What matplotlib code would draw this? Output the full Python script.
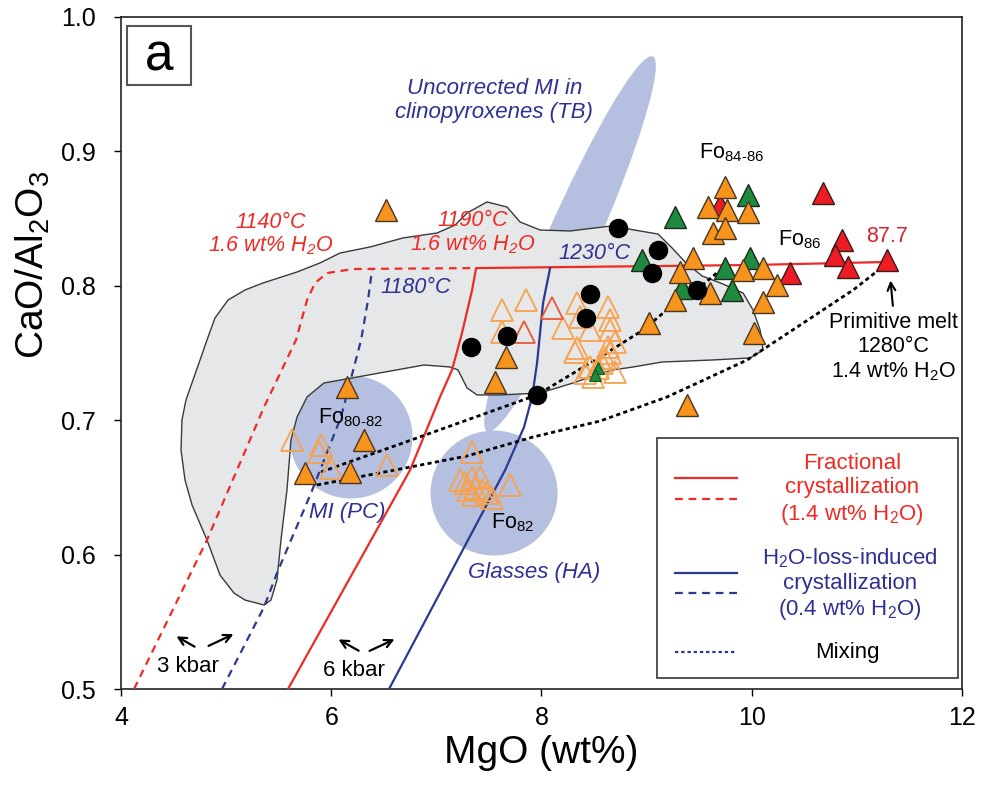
import numpy as np
import matplotlib
matplotlib.use('Agg')
import matplotlib.pyplot as plt
from matplotlib.patches import Polygon, Ellipse, Rectangle
from matplotlib.transforms import ScaledTranslation
from matplotlib import font_manager

plt.rcParams['font.family'] = ['Liberation Sans', 'DejaVu Sans']
plt.rcParams['mathtext.default'] = 'regular'
_names = {f.name for f in font_manager.fontManager.ttflist}
NARROW = 'Liberation Sans Narrow' if 'Liberation Sans Narrow' in _names else 'Liberation Sans'
LABEL_FS = 34 if NARROW == 'Liberation Sans Narrow' else 28

# ---------------- data ----------------
xticks = [4, 6, 8, 10, 12]
yticks = [0.5, 0.6, 0.7, 0.8, 0.9, 1.0]

# grey field of whole-rock / literature data
field_x = [5.361, 5.180, 5.075, 4.942, 4.818, 4.676, 4.609, 4.571, 4.580, 4.618, 4.695, 4.752,
           4.818, 4.894, 5.018, 5.180, 5.351, 5.675, 5.893, 6.084, 6.369, 6.683, 7.007, 7.178,
           7.292, 7.482, 7.673, 7.796, 7.987, 8.272, 8.662, 9.109, 9.243, 9.366, 9.528, 9.728,
           9.918, 10.013, 10.080, 10.108, 9.985, 9.623, 9.148, 8.871, 8.681, 8.491, 8.301, 7.987,
           7.606, 7.387, 7.292, 7.206, 7.130, 6.883, 6.245, 5.931, 5.770, 5.675, 5.617, 5.579,
           5.522, 5.484, 5.427]
field_y = [0.5625, 0.5662, 0.5714, 0.5848, 0.6109, 0.6369, 0.6555, 0.6778, 0.7001, 0.7150, 0.7321, 0.7448,
           0.7597, 0.7760, 0.7894, 0.7969, 0.8021, 0.8103, 0.8170, 0.8244, 0.8289, 0.8356, 0.8393, 0.8452,
           0.8542, 0.8624, 0.8586, 0.8475, 0.8415, 0.8408, 0.8445, 0.8385, 0.8281, 0.8177, 0.8073, 0.8013,
           0.7946, 0.7820, 0.7671, 0.7522, 0.7463, 0.7448, 0.7433, 0.7396, 0.7374, 0.7329, 0.7277, 0.7202,
           0.7188, 0.7188, 0.7240, 0.7374, 0.7396, 0.7411, 0.7321, 0.7277, 0.7173, 0.7024, 0.6853, 0.6481,
           0.6109, 0.5811, 0.5662]

# shaded fields (centres, data units)
tb_center = (8.272, 0.8311)
pc_center = (6.188, 0.6875)
ha_center = (7.549, 0.6458)

# model curves
fc6_x = [5.589, 6.750, 7.035, 7.149, 7.244, 7.340, 7.378, 10.013, 11.269]
fc6_y = [0.500, 0.6629, 0.7173, 0.7374, 0.7649, 0.7969, 0.8132, 0.8155, 0.8177]
fc3_x = [4.124, 4.818, 5.361, 5.665, 5.770, 5.846, 5.960, 6.207, 7.378]
fc3_y = [0.500, 0.6109, 0.7098, 0.7597, 0.7894, 0.8021, 0.8095, 0.8125, 0.8132]
hl6_x = [6.550, 7.654, 7.834, 7.911, 7.958, 8.015, 8.082]
hl6_y = [0.500, 0.6629, 0.6949, 0.7173, 0.7426, 0.7872, 0.8132]
hl3_x = [4.961, 5.361, 5.484, 5.808, 6.093, 6.284, 6.350, 6.388]
hl3_y = [0.500, 0.5610, 0.5863, 0.6458, 0.7024, 0.7597, 0.7894, 0.8118]
mixA_x = [5.903, 6.655, 7.958, 8.558, 8.967, 9.224, 9.509, 9.680]
mixA_y = [0.6615, 0.6823, 0.7188, 0.7470, 0.7671, 0.7842, 0.7991, 0.8103]
mixB_x = [5.865, 6.655, 7.292, 7.920, 8.558, 9.195, 9.956, 10.461, 10.965, 11.269]
mixB_y = [0.6518, 0.6637, 0.6734, 0.6875, 0.6994, 0.7173, 0.7448, 0.7708, 0.7969, 0.8155]

# samples
open_x = [7.853, 7.625, 7.625, 8.206, 8.339, 8.634, 8.367, 8.462, 8.653, 8.653, 8.700, 8.339,
          8.634, 8.653, 8.605, 8.577, 8.539, 8.462, 8.415, 8.700, 8.491, 8.320,
          5.627, 5.903, 5.884, 5.998, 6.531,
          7.340, 7.226, 7.273, 7.340, 7.416, 7.302, 7.368, 7.435, 7.482, 7.530, 7.349, 7.701]
open_y = [0.7894, 0.7820, 0.7656, 0.7686, 0.7872, 0.7842, 0.7768, 0.7671, 0.7746, 0.7671, 0.7582, 0.7537,
          0.7545, 0.7500, 0.7463, 0.7426, 0.7388, 0.7396, 0.7351, 0.7359, 0.7321, 0.7507,
          0.6853, 0.6815, 0.6763, 0.6644, 0.6667,
          0.6763, 0.6555, 0.6533, 0.6570, 0.6577, 0.6481, 0.6496, 0.6481, 0.6458, 0.6421, 0.6443, 0.6518]
openred_x = [8.101, 7.834]
openred_y = [0.7835, 0.7656]
tinygreen_x = [8.539, 8.510]
tinygreen_y = [0.7388, 0.7336]

red_x = [10.679, 9.699, 10.860, 10.794, 10.917, 10.365, 11.288]
red_y = [0.8690, 0.8601, 0.8341, 0.8229, 0.8140, 0.8095, 0.8192]
green_x = [9.966, 9.271, 8.957, 9.747, 9.985, 9.338, 9.814]
green_y = [0.8676, 0.8512, 0.8192, 0.8132, 0.8207, 0.7984, 0.7969]
orange_x = [6.521, 7.663, 7.558, 9.024, 6.150, 6.312, 5.751, 6.179,
            9.747, 9.585, 9.766, 9.966, 9.633, 9.747, 9.442, 9.319, 9.918, 10.108,
            9.604, 9.271, 10.242, 10.108, 10.023, 9.385]
orange_y = [0.8564, 0.7470, 0.7284, 0.7723, 0.7247, 0.6853, 0.6607, 0.6615,
            0.8735, 0.8586, 0.8564, 0.8549, 0.8393, 0.8430, 0.8207, 0.8103, 0.8118, 0.8132,
            0.7946, 0.7894, 0.8006, 0.7879, 0.7649, 0.7113]
black_x = [7.330, 7.673, 7.958, 8.424, 8.462, 8.729, 9.109, 9.052, 9.480]
black_y = [0.7545, 0.7626, 0.7188, 0.7760, 0.7939, 0.8430, 0.8266, 0.8095, 0.7969]

# ---------------- style ----------------
RED = '#EE2B24'
BLUE = '#2B3990'
BLUE_TXT = '#2E3192'
SHADE = '#B5BFDF'
FIELD = '#E6E7E8'
ORANGE = '#F7941D'
GREEN = '#1F8A3F'
TRI_RED = '#ED1C24'
OPEN = '#F6A24E'

fig = plt.figure(figsize=(9.82, 7.87), dpi=100)
ax = fig.add_axes([0.1232, 0.1245, 0.8564, 0.8539])
ax.set_xlim(4, 12)
ax.set_ylim(0.5, 1.0)

def shade(center, w_in, h_in, ang):
    tr = fig.dpi_scale_trans + ScaledTranslation(center[0], center[1], ax.transData)
    e = Ellipse((0, 0), w_in, h_in, angle=ang, transform=tr, facecolor=SHADE,
                edgecolor='none', zorder=1)
    ax.add_patch(e)

shade(tb_center, 4.10, 0.50, 66.2)
shade(pc_center, 1.23, 1.23, 0)
shade(ha_center, 1.27, 1.25, 0)

ax.add_patch(Polygon(np.column_stack([field_x, field_y]), closed=True, facecolor=FIELD,
                     edgecolor='#3a3a3a', lw=1.0, zorder=2))

ax.plot(fc6_x, fc6_y, color=RED, lw=1.6, zorder=3)
ax.plot(fc3_x, fc3_y, color=RED, lw=1.6, ls=(0, (3.5, 2.6)), zorder=3)
ax.plot(hl6_x, hl6_y, color=BLUE, lw=1.6, zorder=3)
ax.plot(hl3_x, hl3_y, color=BLUE, lw=1.6, ls=(0, (3.5, 2.6)), zorder=3)
ax.plot(mixA_x, mixA_y, color='black', lw=2.0, ls=(0, (1.5, 1.2)), zorder=3)
ax.plot(mixB_x, mixB_y, color='black', lw=2.0, ls=(0, (1.5, 1.2)), zorder=3)

tri = 16
ax.plot(open_x, open_y, '^', ms=tri, mfc='none', mec=OPEN, mew=1.3, ls='none', zorder=4)
ax.plot(openred_x, openred_y, '^', ms=tri, mfc='none', mec='#E8583A', mew=1.3, ls='none', zorder=4)
ax.plot(tinygreen_x, tinygreen_y, '^', ms=8, mfc=GREEN, mec='#0f5a25', mew=0.8, ls='none', zorder=4)
ax.plot(red_x, red_y, '^', ms=tri, mfc=TRI_RED, mec='#3a1a1a', mew=1.0, ls='none', zorder=5)
ax.plot(green_x, green_y, '^', ms=tri, mfc=GREEN, mec='#1a2a1a', mew=1.0, ls='none', zorder=6)
ax.plot(orange_x, orange_y, '^', ms=tri, mfc=ORANGE, mec='#4a3520', mew=1.0, ls='none', zorder=7)
ax.plot(black_x, black_y, 'o', ms=13, mfc='black', mec='black', ls='none', zorder=8)

# ---------------- annotations ----------------
fs = 16
ax.text(8.272 - 0.72, 0.938, 'Uncorrected MI in\nclinopyroxenes (TB)', color=BLUE_TXT, style='italic',
        fontsize=fs, ha='center', va='center', linespacing=1.15, zorder=9)
ax.text(5.427, 0.838, '1140°C\n1.6 wt% H$_2$O', color=RED, style='italic', fontsize=15.5,
        ha='center', va='center', linespacing=1.1, zorder=9)
ax.text(7.349, 0.8393, '1190°C\n1.6 wt% H$_2$O', color=RED, style='italic', fontsize=15.5,
        ha='center', va='center', linespacing=1.1, zorder=9)
ax.text(6.807, 0.7984, '1180°C', color=BLUE_TXT, style='italic', fontsize=15.5, ha='center', va='center', zorder=9)
ax.text(8.500, 0.8244, '1230°C', color=BLUE_TXT, style='italic', fontsize=15.5, ha='center', va='center', zorder=9)
ax.text(9.813, 0.8988, 'Fo$_{84\u201086}$', fontsize=15.5, ha='center', va='center', zorder=9)
ax.text(10.461, 0.834, 'Fo$_{86}$', fontsize=15.5, ha='center', va='center', zorder=9)
ax.text(11.288, 0.8370, '87.7', color='#D02530', fontsize=15.5, ha='center', va='center', zorder=9)
ax.text(11.345, 0.754, 'Primitive melt\n1280°C\n1.4 wt% H$_2$O', fontsize=15.5, ha='center',
        va='center', linespacing=1.2, zorder=9)
ax.annotate('', xy=(11.318, 0.806), xytext=(11.345, 0.783),
            arrowprops=dict(arrowstyle='->', lw=1.5, color='black', mutation_scale=14), zorder=9)
ax.text(6.179, 0.7016, 'Fo$_{80\u201082}$', fontsize=15.5, ha='center', va='center', zorder=9)
ax.text(6.150, 0.6317, 'MI (PC)', color=BLUE_TXT, style='italic', fontsize=fs, ha='center', va='center', zorder=9)
ax.text(7.730, 0.6235, 'Fo$_{82}$', fontsize=15.5, ha='center', va='center', zorder=9)
ax.text(7.930, 0.587, 'Glasses (HA)', color=BLUE_TXT, style='italic', fontsize=fs, ha='center', va='center', zorder=9)
ax.text(4.637, 0.5164, '3 kbar', fontsize=fs, ha='center', va='center', zorder=9)
ax.text(6.217, 0.5141, '6 kbar', fontsize=fs, ha='center', va='center', zorder=9)
kbar_arrows = [((4.723, 0.5305), (4.504, 0.5402)), ((4.809, 0.5312), (5.094, 0.5417)),
               ((6.284, 0.5275), (6.046, 0.5379)), ((6.341, 0.5275), (6.626, 0.5379))]
for start, end in kbar_arrows:
    ax.annotate('', xy=end, xytext=start,
                arrowprops=dict(arrowstyle='->', lw=1.6, color='black', mutation_scale=14), zorder=9)

# panel label
ax.add_patch(Rectangle((0.0071, 0.899), 0.0761, 0.0876, transform=ax.transAxes, facecolor='white',
                       edgecolor='#555555', lw=1.5, zorder=9))
ax.text(0.0452, 0.940, 'a', transform=ax.transAxes, fontsize=37, ha='center', va='center', zorder=10)

# legend
ax.add_patch(Rectangle((0.637, 0.0164), 0.358, 0.3571, transform=ax.transAxes, facecolor='white',
                       edgecolor='#444444', lw=1.3, zorder=9))
lx = [0.659, 0.733]
ax.plot(lx, [0.314, 0.314], color=RED, lw=1.6, transform=ax.transAxes, zorder=10)
ax.plot(lx, [0.283, 0.283], color=RED, lw=1.6, ls=(0, (3.5, 2.6)), transform=ax.transAxes, zorder=10)
ax.plot(lx, [0.1726, 0.1726], color=BLUE, lw=1.6, transform=ax.transAxes, zorder=10)
ax.plot(lx, [0.143, 0.143], color=BLUE, lw=1.6, ls=(0, (3.5, 2.6)), transform=ax.transAxes, zorder=10)
ax.plot(lx, [0.055, 0.055], color=BLUE, lw=1.6, ls=(0, (1.5, 1.3)), transform=ax.transAxes, zorder=10)
ax.text(0.869, 0.296, 'Fractional\ncrystallization\n(1.4 wt% H$_2$O)', color=RED, fontsize=fs,
        ha='center', va='center', linespacing=1.2, transform=ax.transAxes, zorder=10)
ax.text(0.867, 0.156, 'H$_2$O-loss-induced\ncrystallization\n(0.4 wt% H$_2$O)', color=BLUE_TXT, fontsize=fs,
        ha='center', va='center', linespacing=1.2, transform=ax.transAxes, zorder=10)
ax.text(0.864, 0.055, 'Mixing', color='black', fontsize=fs, ha='center', va='center',
        transform=ax.transAxes, zorder=10)

# ---------------- axes ----------------
ax.set_xticks(xticks)
ax.set_xticklabels([str(t) for t in xticks])
ax.set_yticks(yticks)
ax.set_yticklabels([f'{t:.1f}' for t in yticks])
ax.tick_params(direction='out', length=5, width=1.0, labelsize=18, pad=7, colors='black')
ax.tick_params(axis='y', pad=13)
for s in ax.spines.values():
    s.set_linewidth(1.2)
    s.set_color('#222222')

ax.set_xlabel('MgO (wt%)', fontsize=LABEL_FS, family=[NARROW, 'Liberation Sans'])
ax.set_ylabel('CaO/Al$_2$O$_3$', fontsize=LABEL_FS, family=[NARROW, 'Liberation Sans'])
ax.xaxis.set_label_coords(0.5, -0.068)
ax.yaxis.set_label_coords(-0.082, 0.631)

fig.savefig('out.png', dpi=100)
